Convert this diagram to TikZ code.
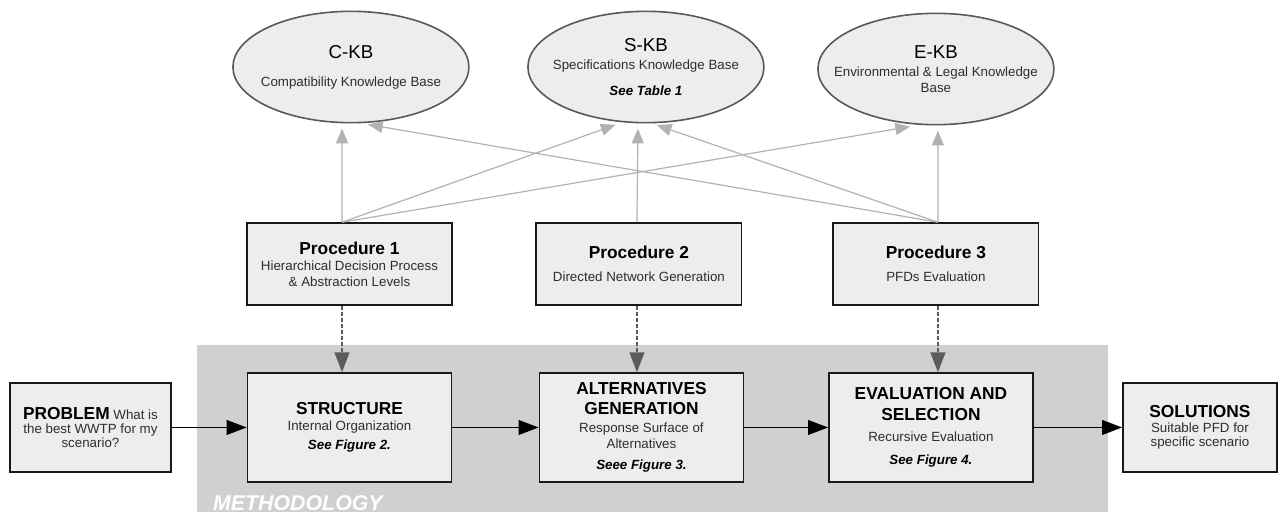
\documentclass[tikz,border=0pt]{standalone}
\usepackage{fontspec}
\setmainfont{Liberation Sans}
\usepackage{tikz}
\usetikzlibrary{arrows.meta,shapes.geometric}

\definecolor{boxfill}{HTML}{EDEDED}
\definecolor{methfill}{HTML}{D0D0D0}
\definecolor{kbline}{HTML}{B2B2B2}
\definecolor{dashline}{HTML}{5C5C5C}
\definecolor{subtext}{HTML}{2E2E2E}
\newcommand{\boxtitle}{\color{black}\fontsize{13}{13}\selectfont\bfseries}
\newcommand{\kbtitle}{\color{black}\fontsize{14}{14}\selectfont}
\newcommand{\seeref}[1]{\color{black}\bfseries\itshape #1}

\begin{document}
\begin{tikzpicture}[node distance=218pt,font=\fontsize{10}{12}\selectfont,
		box/.style={draw=black!90,line width=1.2pt,fill=boxfill,rectangle,align=center,text=subtext,inner sep=2pt},
		kb/.style={draw=black!65,line width=1.2pt,fill=boxfill,ellipse,align=center,text=subtext,minimum width=177pt,minimum height=83.5pt,inner xsep=-30pt,inner ysep=0pt},
		flowarrow/.style={draw=black,line width=1.2pt,-{Triangle[length=15pt,width=11pt]}},
		dasharrow/.style={draw=dashline,fill=dashline,line width=1.8pt,dash pattern=on 3pt off 1.5pt,-{Triangle[length=15pt,width=11pt]}},
		kbarrow/.style={draw=kbline,fill=kbline,line width=0.9pt,shorten >=4pt,-{Triangle[length=11pt,width=9pt]}}]
				\useasboundingbox (-262.1pt,-63.4pt) rectangle (696.4pt,320.6pt);
				\fill[methfill] (-114.4pt,-63.4pt) rectangle (568.9pt,61.9pt);
				\node[font=\fontsize{16}{16}\selectfont\bfseries\itshape,text=white,anchor=base west,inner sep=0pt] (methlabel) at (-102.4pt,-61.9pt) {METHODOLOGY};

				\node[box,minimum width=153pt,minimum height=81.5pt] (structure) at (0,0) {{\boxtitle STRUCTURE}\\Internal Organization\\[2pt]{\seeref{See Figure 2.}}};
				\node[box,minimum width=153pt,minimum height=81.5pt] (alternatives) [right of=structure,xshift=1pt] {{\boxtitle ALTERNATIVES}\\[3pt]{\boxtitle GENERATION}\\[1.5pt]Response Surface of\\Alternatives\\[4pt]{\seeref{Seee Figure 3.}}};
				\node[box,minimum width=153pt,minimum height=81.5pt] (evaluation) [right of=alternatives,xshift=-0.9pt] {{\boxtitle EVALUATION AND}\\[3.5pt]{\boxtitle SELECTION}\\[3.5pt]Recursive Evaluation\\[5.5pt]{\seeref{See Figure 4.}}};
				\node[box,minimum width=120.75pt,minimum height=66.75pt,font=\fontsize{10}{10.5}\selectfont] (problem) [left of=structure,xshift=23.75pt] {{\boxtitle PROBLEM} What is\\the best WWTP for my\\scenario?};
				\node[box,minimum width=115.5pt,minimum height=66.75pt,font=\fontsize{10}{11}\selectfont] (solutions) [right of=evaluation,xshift=-16.25pt] {{\boxtitle SOLUTIONS}\\Suitable PFD for\\specific scenario};

				\node[box,minimum width=154pt,minimum height=61.5pt] (proc1) [above of=structure,yshift=-95.4pt] {{\boxtitle Procedure 1}\\Hierarchical Decision Process\\\& Abstraction Levels};
				\node[box,minimum width=154pt,minimum height=61.5pt] (proc2) [right of=proc1,xshift=-0.9pt] {{\boxtitle Procedure 2}\\[5pt]Directed Network Generation};
				\node[box,minimum width=154pt,minimum height=61.5pt] (proc3) [right of=proc2,xshift=4.75pt] {{\boxtitle Procedure 3}\\[5pt]PFDs Evaluation};

				\node[kb] (kbc) [above of=proc1,yshift=-70.25pt,xshift=1.1pt] {{\kbtitle C-KB}\\[9pt]Compatibility Knowledge Base};
				\node[kb] (kbs) [right of=kbc,xshift=3.25pt] {{\kbtitle S-KB}\\[1.5pt]Specifications Knowledge Base\\[8pt]{\seeref{See Table 1}}};
				\node[kb] (kbe) [right of=kbs,xshift=-0.5pt,yshift=-1.5pt] {{\kbtitle E-KB}\\[1.5pt]Environmental \& Legal Knowledge\\Base};

				\path
				([xshift=-5.6pt]proc1.north) edge[kbarrow] (kbc.-99)
				([xshift=-5.6pt]proc1.north) edge[kbarrow,shorten >=5.5pt] (kbs.-113)
				([xshift=-5.6pt]proc1.north) edge[kbarrow,shorten >=7.5pt] (kbe.-106)
				([xshift=-1.5pt]proc2.north) edge[kbarrow] (kbs.-98)
				([xshift=1.5pt]proc3.north) edge[kbarrow,shorten >=5.5pt] (kbc.-80)
				([xshift=1.5pt]proc3.north) edge[kbarrow] (kbs.-84)
				([xshift=1.5pt]proc3.north) edge[kbarrow] (kbe.-88);

				\path
				([xshift=-5.6pt]proc1.south) edge[dasharrow] ([xshift=-5.6pt]structure.north)
				([xshift=-1.5pt]proc2.south) edge[dasharrow] ([xshift=-3.4pt]alternatives.north)
				([xshift=1.5pt]proc3.south) edge[dasharrow] ([xshift=5.25pt]evaluation.north);

				\path
				(problem) edge[flowarrow] (structure)
				(structure) edge[flowarrow] (alternatives)
				(alternatives) edge[flowarrow] (evaluation)
				(evaluation) edge[flowarrow] (solutions);
			\end{tikzpicture}
\end{document}
